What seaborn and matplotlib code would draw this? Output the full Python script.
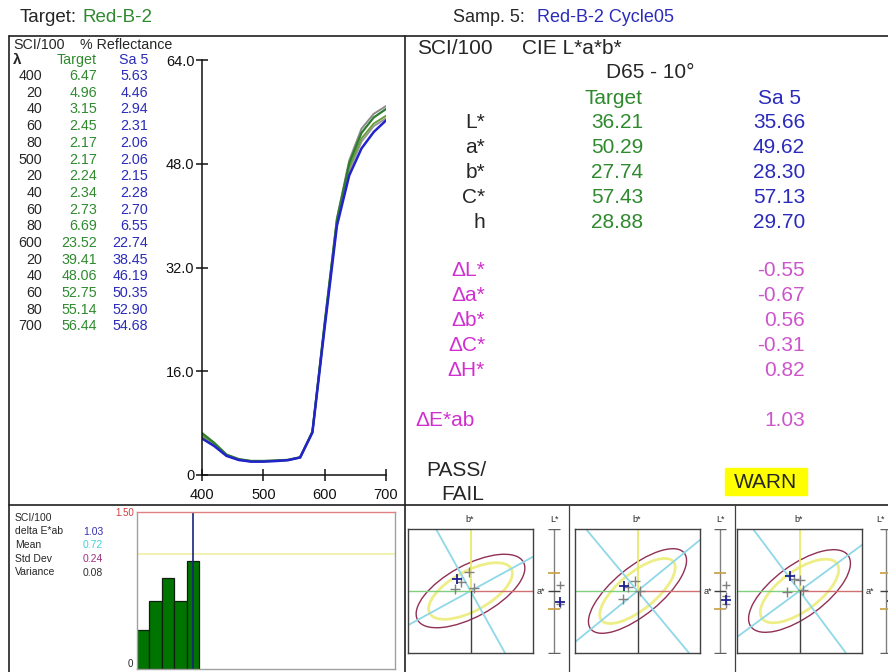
import numpy as np
import matplotlib
matplotlib.use('Agg')
import matplotlib.pyplot as plt
import seaborn as sns
from matplotlib.patches import Ellipse, Rectangle

sns.set_style('white')
plt.rcParams['font.family'] = ['Liberation Sans', 'DejaVu Sans']

W, H = 888, 672

# Spectral data (% reflectance)
wavelengths = [400, 420, 440, 460, 480, 500, 520, 540, 560, 580, 600, 620, 640, 660, 680, 700]
wl_labels = ['400', '20', '40', '60', '80', '500', '20', '40', '60', '80',
             '600', '20', '40', '60', '80', '700']
target_refl = [6.47, 4.96, 3.15, 2.45, 2.17, 2.17, 2.24, 2.34, 2.73, 6.69,
               23.52, 39.41, 48.06, 52.75, 55.14, 56.44]
sample_refl = [5.63, 4.46, 2.94, 2.31, 2.06, 2.06, 2.15, 2.28, 2.70, 6.55,
               22.74, 38.45, 46.19, 50.35, 52.90, 54.68]
# other samples of the batch
other_refl_1 = [6.3, 4.85, 3.1, 2.42, 2.15, 2.15, 2.22, 2.32, 2.72, 6.65,
                23.4, 39.6, 48.5, 53.4, 55.7, 56.9]
other_refl_2 = [6.0, 4.7, 3.05, 2.38, 2.1, 2.1, 2.19, 2.3, 2.71, 6.6,
                23.1, 39.0, 47.4, 51.9, 54.2, 55.4]
other_refl_3 = [5.8, 4.6, 3.0, 2.35, 2.08, 2.08, 2.17, 2.29, 2.7, 6.58,
                22.9, 38.8, 46.9, 51.4, 53.8, 55.0]

# Colorimetric values
lab_labels = ['L*', 'a*', 'b*', 'C*', 'h']
target_lab = [36.21, 50.29, 27.74, 57.43, 28.88]
sample_lab = [35.66, 49.62, 28.30, 57.13, 29.70]
delta_labels = ['L*', 'a*', 'b*', 'C*', 'H*']
delta_values = [-0.55, -0.67, 0.56, -0.31, 0.82]
delta_e = 1.03

# Delta E history
sample_no = [1, 2, 3, 4, 5]
de_history = [0.37, 0.65, 0.87, 0.65, 1.03]
stat_labels = ['delta E*ab', 'Mean', 'Std Dev', 'Variance']
stat_values = ['1.03', '0.72', '0.24', '0.08']
stat_colors = ['#3030b0', '#40d0e0', '#a03080', '#303030']

# a*b* / L* tolerance plots (three illuminants)
panel_hue = [28.9, 39.5, 36.6]
tol_major = [2.9, 2.9, 2.9]
tol_minor = [1.25, 1.15, 1.25]
s5_da = [-0.67, -0.64, -0.46]
s5_db = [0.56, 0.22, 0.72]
s5_dl = [-0.55, -0.45, -0.5]
oth_da = [[-0.05, -0.74, 0.16, -0.45], [-0.13, -0.69, 0.11, -0.45], [0.0, -0.59, 0.16, -0.27]]
oth_db = [[0.93, 0.08, 0.13, 0.45], [0.46, -0.37, -0.02, 0.19], [0.51, -0.03, 0.03, 0.56]]
oth_dl = [[0.3, -0.65], [0.28, -0.25, -0.65], [0.35, -0.4]]

GREEN = '#2f8a2f'
BLUE = '#2b2bbb'
MAGENTA = '#d030d0'
MAG_VAL = '#cc55cc'


def px_box(x0, y0, x1, y1):
    return [x0 / W, 1 - y1 / H, (x1 - x0) / W, (y1 - y0) / H]


fig = plt.figure(figsize=(W / 100, H / 100), dpi=100)

# background layer for frame and text
bg = fig.add_axes([0, 0, 1, 1])
bg.set_xlim(0, W)
bg.set_ylim(H, 0)
bg.axis('off')

for (xa, ya, xb, yb) in [(9, 36, 888, 36), (9, 36, 9, 672), (405, 36, 405, 672), (9, 505, 888, 505)]:
    bg.plot([xa, xb], [ya, yb], color='#202020', lw=1.2)
for xd in [569, 735]:
    bg.plot([xd, xd], [505, 672], color='#404040', lw=0.9)

# header
bg.text(20, 18, 'Target:', fontsize=13.5, va='center')
bg.text(82, 18, 'Red-B-2', fontsize=13.5, va='center', color=GREEN)
bg.text(453, 18, 'Samp. 5:', fontsize=13, va='center')
bg.text(537, 18, 'Red-B-2 Cycle05', fontsize=13, va='center', color=BLUE)

# left reflectance table
bg.text(13, 45, 'SCI/100', fontsize=10.3, va='center')
bg.text(80, 45, '% Reflectance', fontsize=10.3, va='center')
bg.text(13, 60, 'λ', fontsize=11, va='center', fontweight='bold')
bg.text(97, 60, 'Target', fontsize=10.3, va='center', ha='right', color=GREEN)
bg.text(148, 60, 'Sa 5', fontsize=10.3, va='center', ha='right', color=BLUE)
for i, lab in enumerate(wl_labels):
    y = 76 + i * 16.7
    bg.text(42, y, lab, fontsize=10.3, va='center', ha='right')
    bg.text(97, y, f'{target_refl[i]:.2f}', fontsize=10.3, va='center', ha='right', color=GREEN)
    bg.text(148, y, f'{sample_refl[i]:.2f}', fontsize=10.3, va='center', ha='right', color=BLUE)

# right colorimetric table
FS = 15
bg.text(417, 48, 'SCI/100', fontsize=FS, va='center')
bg.text(522, 48, 'CIE L*a*b*', fontsize=FS, va='center')
bg.text(650, 73, 'D65 - 10°', fontsize=FS, va='center', ha='center')
bg.text(613, 98, 'Target', fontsize=FS, va='center', ha='center', color=GREEN)
bg.text(801, 98, 'Sa 5', fontsize=FS, va='center', ha='right', color=BLUE)
for i, lab in enumerate(lab_labels):
    y = 123 + i * 24.8
    bg.text(485, y, lab, fontsize=FS, va='center', ha='right')
    bg.text(643, y, f'{target_lab[i]:.2f}', fontsize=FS, va='center', ha='right', color=GREEN)
    bg.text(805, y, f'{sample_lab[i]:.2f}', fontsize=FS, va='center', ha='right', color=BLUE)
for i, lab in enumerate(delta_labels):
    y = 271 + i * 24.8
    bg.text(485, y, 'Δ' + lab, fontsize=FS, va='center', ha='right', color=MAGENTA)
    bg.text(805, y, f'{delta_values[i]:.2f}', fontsize=FS, va='center', ha='right', color=MAG_VAL)
bg.text(415, 421, 'ΔE*ab', fontsize=FS, va='center', ha='left', color=MAGENTA)
bg.text(805, 421, f'{delta_e:.2f}', fontsize=FS, va='center', ha='right', color=MAG_VAL)
bg.text(486, 470, 'PASS/', fontsize=FS, va='center', ha='right')
bg.text(484, 494, 'FAIL', fontsize=FS, va='center', ha='right')
bg.add_patch(Rectangle((725, 468), 82, 27, color='#ffff00', zorder=1))
bg.text(766, 482, 'WARN', fontsize=FS, va='center', ha='center', zorder=2)

# spectral curves
ax_s = fig.add_axes(px_box(202, 60, 386, 475))
for refl, col in [(other_refl_1, '#8c8c8c'), (other_refl_3, '#9a9a9a'), (other_refl_2, '#6aa03a')]:
    sns.lineplot(x=wavelengths, y=refl, color=col, lw=1.4, ax=ax_s)
sns.lineplot(x=wavelengths, y=target_refl, color='#2e7d2e', lw=1.6, ax=ax_s)
sns.lineplot(x=wavelengths, y=sample_refl, color='#2323cc', lw=1.8, ax=ax_s)
ax_s.set_xlim(400, 700)
ax_s.set_ylim(0, 64)
ax_s.set_xticks([400, 500, 600, 700])
ax_s.set_yticks([0, 16, 32, 48, 64])
ax_s.set_yticklabels(['0', '16.0', '32.0', '48.0', '64.0'])
ax_s.tick_params(bottom=True, left=True, direction='inout', length=9, width=1.1,
                 labelsize=10.5, colors='#111111', pad=1)
ax_s.tick_params(axis='x', pad=5)
ax_s.patch.set_alpha(0)
sns.despine(ax=ax_s)
for sp in ['left', 'bottom']:
    ax_s.spines[sp].set_color('#111111')
    ax_s.spines[sp].set_linewidth(1.1)

# delta E history
for i, lab in enumerate(['SCI/100'] + stat_labels):
    y = 518 + i * 13.5
    bg.text(15, y, lab, fontsize=7.5, va='center')
for i, val in enumerate(stat_values):
    bg.text(83, 532 + i * 13.5, val, fontsize=7.5, va='center', color=stat_colors[i])

ax_h = fig.add_axes(px_box(137, 512, 395, 669))
sns.barplot(x=sample_no, y=de_history, native_scale=True, width=1, color='#007400',
            saturation=1, edgecolor='#102010', linewidth=0.9, errorbar=None, ax=ax_h)
ax_h.axhline(1.1, color='#f2f2b0', lw=1.4, zorder=0)
ax_h.axvline(5, color='#1a237e', lw=1.2)
ax_h.set_xlim(0.5, 21.2)
ax_h.set_ylim(0, 1.5)
ax_h.set_xticks([])
ax_h.set_yticks([1.5])
ax_h.set_yticklabels(['1.50'])
ax_h.tick_params(length=0, labelsize=7, pad=2, labelcolor='#d04040')
for sp in ax_h.spines.values():
    sp.set_color('#a0a0a0')
    sp.set_linewidth(1)
ax_h.spines['top'].set_color('#e08080')
bg.text(133, 664, '0', fontsize=7, ha='right', va='center')

# a*b* and L* tolerance plots
panel_x = [408, 575, 737]
lstar_x = [554, 720, 886]
for i in range(3):
    x0 = panel_x[i]
    ax = fig.add_axes(px_box(x0, 529, x0 + 125, 653))
    ax.set_xlim(-3, 3)
    ax.set_ylim(-3, 3)
    ax.set_xticks([])
    ax.set_yticks([])
    for sp in ax.spines.values():
        sp.set_color('#404040')
        sp.set_linewidth(1)
    h = np.deg2rad(panel_hue[i])
    ax.axline((0, 0), slope=np.tan(h), color='#8fd8e8', lw=1.3)
    ax.axline((0, 0), slope=-1 / np.tan(h), color='#8fd8e8', lw=1.3)
    ax.plot([0, 3], [0, 0], color='#d07070', lw=1)
    ax.plot([-3, 0], [0, 0], color='#80d080', lw=1)
    ax.plot([0, 0], [0, 3], color='#e8e860', lw=1.2)
    ax.plot([0, 0], [-3, 0], color='#404040', lw=1)
    ax.add_patch(Ellipse((0, 0), 2 * tol_major[i], 2 * tol_minor[i], angle=panel_hue[i],
                         fill=False, ec='#903055', lw=1))
    ax.add_patch(Ellipse((0, 0), 2 * tol_major[i] * 0.77, 2 * tol_minor[i] * 0.77,
                         angle=panel_hue[i], fill=False, ec='#eeee88', lw=2))
    sns.scatterplot(x=oth_da[i], y=oth_db[i], marker='+', color='#808080', s=45,
                    linewidth=1, ax=ax, zorder=5)
    sns.scatterplot(x=[s5_da[i]], y=[s5_db[i]], marker='+', color='#202090', s=55,
                    linewidth=1.3, ax=ax, zorder=6)
    bg.text(x0 + 62, 519, 'b*', fontsize=6.5, ha='center', va='center')
    bg.text(x0 + 129, 591, 'a*', fontsize=6.5, ha='left', va='center')

    lx = lstar_x[i]
    axl = fig.add_axes(px_box(lx - 10, 529, lx + 10, 653))
    axl.set_xlim(-1, 1)
    axl.set_ylim(-3, 3)
    axl.axis('off')
    axl.plot([0, 0], [-3, 3], color='#808080', lw=1)
    axl.plot([0, 0], [-3, 3], ls='none', marker='_', ms=9, mew=1, color='#606060')
    axl.plot([0, 0], [-0.85, 0.85], ls='none', marker='_', ms=9, mew=1.2, color='#c8a040')
    axl.plot([0], [0], ls='none', marker='_', ms=9, mew=1, color='#404040')
    sns.scatterplot(x=[0.6] * len(oth_dl[i]), y=oth_dl[i], marker='+', color='#808080',
                    s=35, linewidth=1, ax=axl)
    sns.scatterplot(x=[0.6], y=[s5_dl[i]], marker='+', color='#202090', s=45,
                    linewidth=1.3, ax=axl)
    bg.text(min(lx, 880), 519, 'L*', fontsize=6.5, ha='center', va='center')

fig.savefig('out.png', dpi=100)
